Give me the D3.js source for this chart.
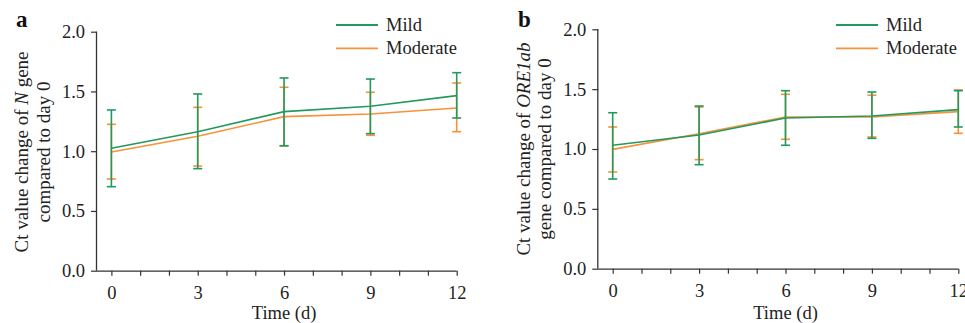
<!DOCTYPE html>
<html><head><meta charset="utf-8">
<script src="https://cdn.jsdelivr.net/npm/d3@7/dist/d3.min.js"></script>
<style>body{margin:0;background:#fff;} svg{display:block;font-family:"Liberation Serif","Times New Roman",serif;}</style>
</head><body>
<svg id="chart" width="965" height="323"></svg>
<script>
const days = [0, 3, 6, 9, 12];
const seriesNames = ["Mild", "Moderate"];
const xTickLabels = ["0", "3", "6", "9", "12"];
const yTickValues = [0, 0.5, 1.0, 1.5, 2.0];

// Panel a: N gene
const aMild      = [1.024, 1.163, 1.331, 1.376, 1.465];
const aMildHi    = [1.345, 1.479, 1.613, 1.604, 1.657];
const aMildLo    = [0.703, 0.854, 1.046, 1.147, 1.278];
const aMod       = [0.993, 1.125, 1.289, 1.311, 1.362];
const aModHi     = [1.225, 1.367, 1.535, 1.493, 1.571];
const aModLo     = [0.767, 0.876, 1.044, 1.133, 1.163];

// Panel b: ORF1ab gene
const bMild      = [1.031, 1.117, 1.259, 1.276, 1.329];
const bMildHi    = [1.303, 1.359, 1.487, 1.476, 1.487];
const bMildLo    = [0.749, 0.869, 1.031, 1.089, 1.184];
const bMod       = [0.997, 1.128, 1.267, 1.267, 1.312];
const bModHi     = [1.184, 1.351, 1.457, 1.449, 1.493];
const bModLo     = [0.808, 0.911, 1.081, 1.100, 1.131];

const colors = {Mild: "#22995e", Moderate: "#f7913a"};
const FS = 18.5;

const svg = d3.select("#chart");

function panel(opt) {
  const g = svg.append("g");
  const x = d3.scaleLinear().domain([-0.5, 12]).range([opt.left, opt.right]);
  const y = d3.scaleLinear().domain([0, 2]).range([opt.bottom, opt.top]);

  // axes
  const xAxis = d3.axisBottom(x).tickValues(d3.range(0, 13, 1)).tickSize(5)
    .tickFormat(d => days.includes(d) ? xTickLabels[days.indexOf(d)] : "").tickPadding(10);
  const gx = g.append("g").attr("transform", `translate(0,${opt.bottom})`).call(xAxis);
  gx.select(".domain").attr("d", `M${opt.left},0.5H${x(12)}`).attr("stroke", "#333").attr("stroke-width", 1.3);
  gx.selectAll(".tick line").attr("stroke", "#333").attr("stroke-width", 1.2);
  gx.selectAll(".tick text").attr("font-size", FS).attr("fill", "#222")
    .attr("font-family", "Liberation Serif, serif");

  const yAxis = d3.axisLeft(y).tickValues(yTickValues).tickSize(6).tickFormat(d3.format(".1f")).tickPadding(6);
  const gy = g.append("g").attr("transform", `translate(${opt.left},0)`).call(yAxis);
  gy.select(".domain").attr("d", `M-0.5,${opt.top}V${opt.bottom}`).attr("stroke", "#333").attr("stroke-width", 1.3);
  gy.selectAll(".tick line").attr("stroke", "#333").attr("stroke-width", 1.2);
  gy.selectAll(".tick text").attr("font-size", FS).attr("fill", "#222")
    .attr("font-family", "Liberation Serif, serif");

  // series
  const series = [
    {name: "Moderate", v: opt.mod, hi: opt.modHi, lo: opt.modLo},
    {name: "Mild", v: opt.mild, hi: opt.mildHi, lo: opt.mildLo}
  ];
  const line = d3.line().x((d, i) => x(days[i])).y(d => y(d));
  series.forEach(s => {
    const c = colors[s.name];
    g.append("path").attr("d", line(s.v)).attr("fill", "none").attr("stroke", c).attr("stroke-width", 1.6);
    days.forEach((d, i) => {
      g.append("line").attr("x1", x(d)).attr("x2", x(d)).attr("y1", y(s.lo[i])).attr("y2", y(s.hi[i]))
        .attr("stroke", c).attr("stroke-width", 1.6);
      [s.lo[i], s.hi[i]].forEach(v => {
        g.append("line").attr("x1", x(d) - 4.5).attr("x2", x(d) + 4.5).attr("y1", y(v)).attr("y2", y(v))
          .attr("stroke", c).attr("stroke-width", 1.6);
      });
    });
  });

  // legend
  seriesNames.forEach((n, i) => {
    const ly = opt.legY + i * 23.3;
    g.append("line").attr("x1", opt.legX).attr("x2", opt.legX + 42).attr("y1", ly).attr("y2", ly)
      .attr("stroke", colors[n]).attr("stroke-width", 1.8);
    g.append("text").attr("x", opt.legX + 50).attr("y", ly + 6).attr("font-size", FS).attr("fill", "#222").text(n);
  });

  // panel label
  g.append("text").attr("x", opt.labX).attr("y", 27).attr("font-size", 23).attr("font-weight", "bold")
    .attr("fill", "#111").text(opt.label);

  // x title
  g.append("text").attr("x", x(6)).attr("y", 319).attr("text-anchor", "middle").attr("font-size", FS)
    .attr("fill", "#222").text("Time (d)");

  // y title
  const cy = opt.titleCY;
  const t1 = g.append("text").attr("transform", `translate(${opt.t1x},${cy}) rotate(-90)`)
    .attr("text-anchor", "middle").attr("font-size", 19).attr("fill", "#222");
  t1.append("tspan").text("Ct value change of ");
  t1.append("tspan").attr("font-style", "italic").text(opt.gene);
  t1.append("tspan").text(opt.geneSuffix);
  g.append("text").attr("transform", `translate(${opt.t2x},${cy}) rotate(-90)`)
    .attr("text-anchor", "middle").attr("font-size", 19).attr("fill", "#222").text(opt.line2);
}

panel({left: 97, right: 456.7, top: 31.7, bottom: 270.7,
  mild: aMild, mildHi: aMildHi, mildLo: aMildLo, mod: aMod, modHi: aModHi, modLo: aModLo,
  legX: 336, legY: 25, label: "a", labX: 16, gene: "N", geneSuffix: " gene", line2: "compared to day 0",
  t1x: 28, t2x: 49.5, titleCY: 152});

panel({left: 598.3, right: 958.3, top: 29.3, bottom: 268.7,
  mild: bMild, mildHi: bMildHi, mildLo: bMildLo, mod: bMod, modHi: bModHi, modLo: bModLo,
  legX: 836, legY: 25, label: "b", labX: 518, gene: "ORE1ab", geneSuffix: "", line2: "gene compared to day 0",
  t1x: 530, t2x: 551, titleCY: 149});
</script>
</body></html>
